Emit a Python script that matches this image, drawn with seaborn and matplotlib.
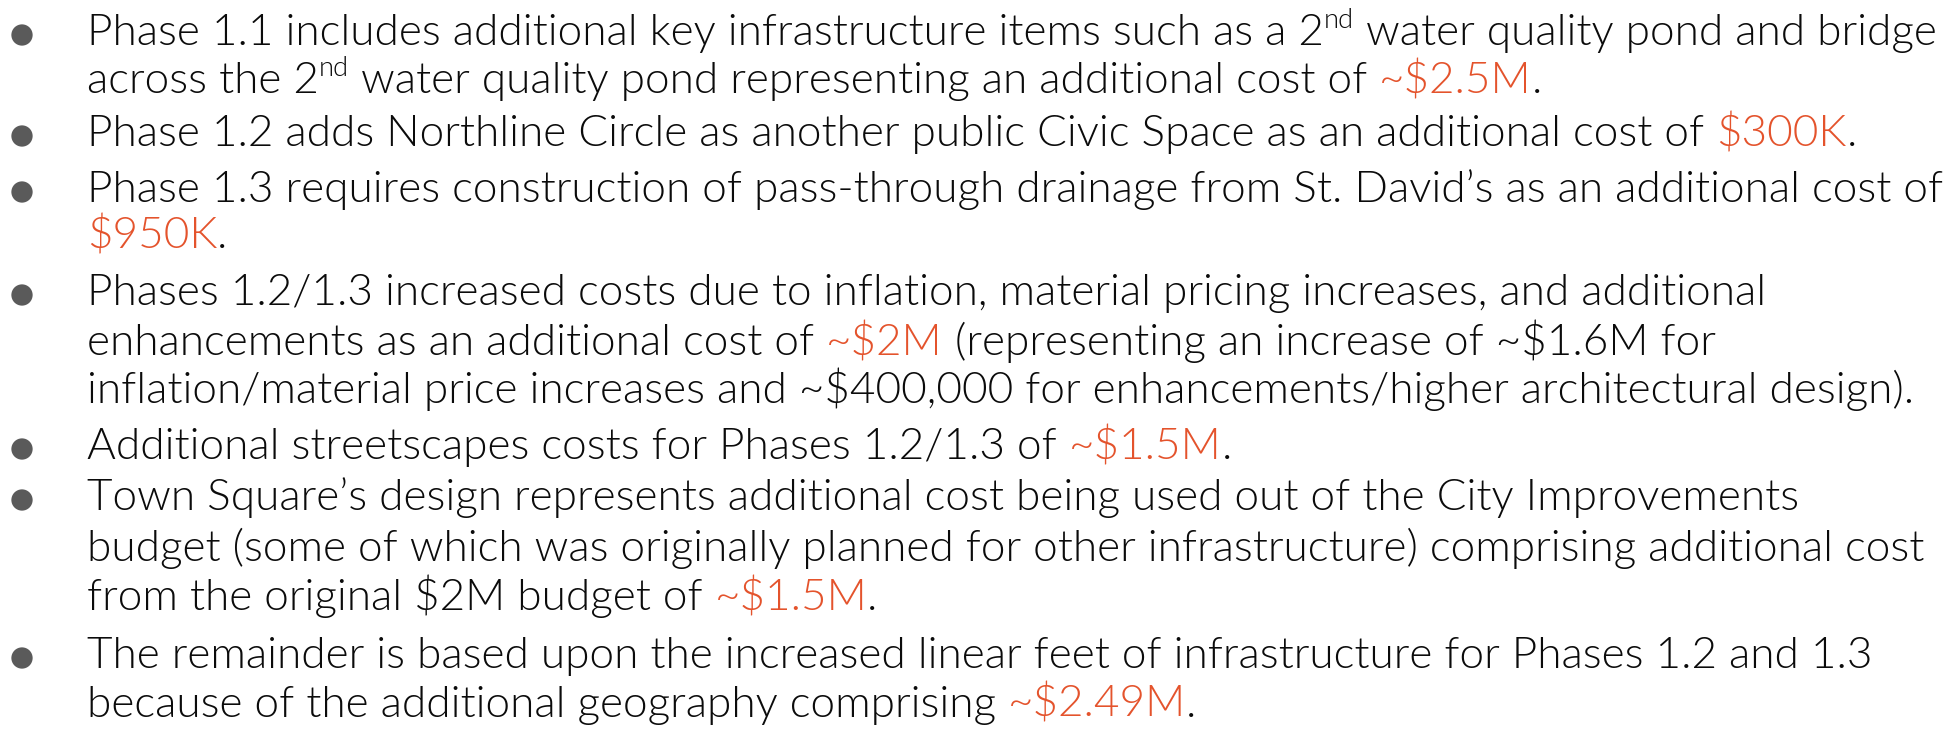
#!/usr/bin/env python3
"""Bullet slide: additional cost breakdown for Phases 1.1 - 1.3."""

import matplotlib

matplotlib.use("Agg")
import matplotlib.pyplot as plt
import pandas as pd
import seaborn as sns

# Text of the slide, one list per bullet, each line a list of (style, text)
# styles: "n" plain, "o" orange amount, "s" superscript
BULLET_1 = [
    [("n", "Phase 1.1 includes additional key infrastructure items such as a 2"),
     ("s", "nd"), ("n", " water quality pond and bridge")],
    [("n", "across the 2"), ("s", "nd"),
     ("n", " water quality pond representing an additional cost of "),
     ("o", "~$2.5M"), ("n", ".")],
]
BULLET_2 = [
    [("n", "Phase 1.2 adds Northline Circle as another public Civic Space as an additional cost of "),
     ("o", "$300K"), ("n", ".")],
]
BULLET_3 = [
    [("n", "Phase 1.3 requires construction of pass-through drainage from St. David\u2019s as an additional cost of")],
    [("o", "$950K"), ("n", ".")],
]
BULLET_4 = [
    [("n", "Phases 1.2/1.3 increased costs due to inflation, material pricing increases, and additional")],
    [("n", "enhancements as an additional cost of "), ("o", "~$2M"),
     ("n", " (representing an increase of ~$1.6M for")],
    [("n", "inflation/material price increases and ~$400,000 for enhancements/higher architectural design).")],
]
BULLET_5 = [
    [("n", "Additional streetscapes costs for Phases 1.2/1.3 of "), ("o", "~$1.5M"), ("n", ".")],
]
BULLET_6 = [
    [("n", "Town Square\u2019s design represents additional cost being used out of the City Improvements")],
    [("n", "budget (some of which was originally planned for other infrastructure) comprising additional cost")],
    [("n", "from the original $2M budget of "), ("o", "~$1.5M"), ("n", ".")],
]
BULLET_7 = [
    [("n", "The remainder is based upon the increased linear feet of infrastructure for Phases 1.2 and 1.3")],
    [("n", "because of the additional geography comprising "), ("o", "~$2.49M"), ("n", ".")],
]
BULLETS = [BULLET_1, BULLET_2, BULLET_3, BULLET_4, BULLET_5, BULLET_6, BULLET_7]

# Layout (pixels, full-size figure)
W, H = 1957, 735
BASELINES = [45, 93, 146, 202, 248, 305, 355, 403, 459, 510, 561, 610, 668, 717]
TEXT_X = 87
BULLET_X = 22
BULLET_RAISE = 10
LINE1_RIGHT = 1932

TEXT_COLOR = "#0b0b0b"
ACCENT = "#E4532C"
BULLET_COLOR = "#5a5a5a"
FONT = ["Lato", "DejaVu Sans"]

sns.set_theme(style="white")
plt.rcParams["font.family"] = FONT

fig = plt.figure(figsize=(W / 100, H / 100), dpi=100)
ax = fig.add_axes([0, 0, 1, 1])
renderer = fig.canvas.get_renderer()


def draw_line(segments, y, size, measure_only=False):
    """Draw one line of mixed-style segments; return its right edge."""
    x = TEXT_X
    for style, txt in segments:
        kw = dict(fontsize=size, color=TEXT_COLOR, va="baseline", ha="left",
                  fontweight=300, parse_math=False)
        yy = y
        if style == "o":
            kw["color"] = ACCENT
        elif style == "s":
            kw["fontsize"] = size * 0.62
            yy = y - size * 100 / 72 * 0.38
        t = ax.text(x, yy, txt, **kw)
        x += t.get_window_extent(renderer).width
        if measure_only:
            t.remove()
    return x


ax.set_xlim(0, W)
ax.set_ylim(H, 0)

# fit the font size so the first line spans the same width as the slide
base_size = 28
right = draw_line(BULLETS[0][0], BASELINES[0], base_size, measure_only=True)
size = base_size * (LINE1_RIGHT - TEXT_X) / (right - TEXT_X)

rows = []
i = 0
for b, bullet in enumerate(BULLETS):
    for k, line in enumerate(bullet):
        draw_line(line, BASELINES[i], size)
        if k == 0:
            rows.append({"x": BULLET_X, "y": BASELINES[i] - BULLET_RAISE, "bullet": b})
        i += 1

dots = pd.DataFrame(rows)
sns.scatterplot(data=dots, x="x", y="y", ax=ax, s=235, color=BULLET_COLOR,
                edgecolor="none", legend=False)
ax.set_xlim(0, W)
ax.set_ylim(H, 0)
ax.axis("off")

fig.savefig("out.png", dpi=100, facecolor="white")
